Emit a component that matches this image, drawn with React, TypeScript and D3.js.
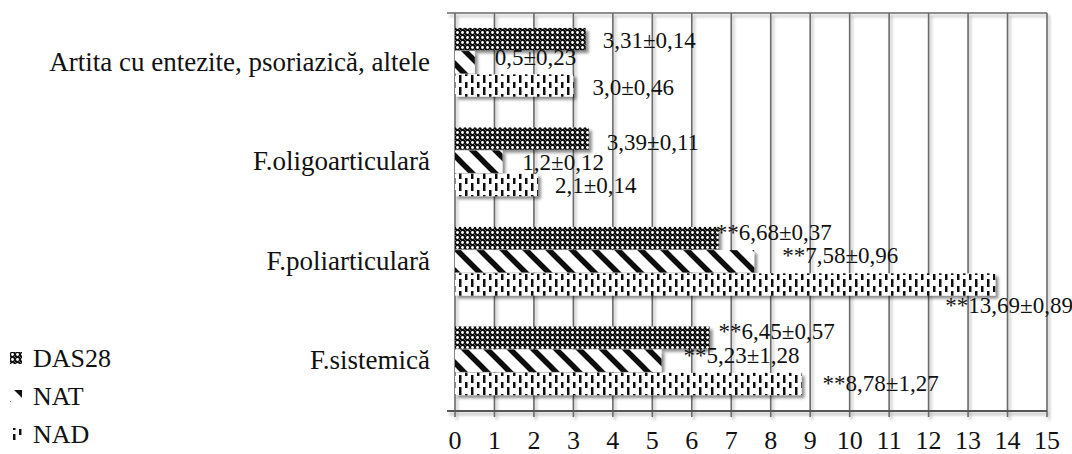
import * as d3 from 'd3';

const CATEGORIES = [
  'Artita cu entezite, psoriazică, altele',
  'F.oligoarticulară',
  'F.poliarticulară',
  'F.sistemică',
];
const SERIES = ['DAS28', 'NAT', 'NAD'];

// mean values per category (top to bottom)
const DAS28 = [3.31, 3.39, 6.68, 6.45];
const NAT = [0.5, 1.2, 7.58, 5.23];
const NAD = [3.0, 2.1, 13.69, 8.78];

// standard errors shown after the ±
const DAS28_SE = [0.14, 0.11, 0.37, 0.57];
const NAT_SE = [0.23, 0.12, 0.96, 1.28];
const NAD_SE = [0.46, 0.14, 0.89, 1.27];

// categories marked with ** (significant)
const SIGNIFICANT = [false, false, true, true];

const X_TICKS = [0, 1, 2, 3, 4, 5, 6, 7, 8, 9, 10, 11, 12, 13, 14, 15];

const WIDTH = 1072;
const HEIGHT = 454;
const PLOT = { left: 455, right: 1047, top: 13, bottom: 411 };
const FONT = '"Liberation Serif", monospace';
const GRID = '#6a6a6a';
const INK = '#111';

// hand placement of value labels, [category][series]: px right of bar end, px below bar centre
const LABEL_DX = [
  [17, 20, 19],
  [18, 20, 17],
  [-3, 28, -50],
  [9, 22, 21],
];
const LABEL_DY = [
  [8.5, 2.5, 9],
  [11, 8, 7.5],
  [1.5, 1.5, 28],
  [1, 2, 6.5],
];

const FILLS = ['url(#p-das28)', 'url(#p-nat)', 'url(#p-nad)'];
const P = 23; // NAT stripe period

const fmt = (v: number) => (Number.isInteger(v) ? v.toFixed(1) : String(v)).replace('.', ',');

export default function App() {
  const values = [DAS28, NAT, NAD];
  const errors = [DAS28_SE, NAT_SE, NAD_SE];

  const x = d3.scaleLinear().domain([0, 15]).range([PLOT.left, PLOT.right]);
  const y = d3
    .scaleBand()
    .domain(CATEGORIES)
    .range([PLOT.top, PLOT.bottom])
    .paddingInner(0.3)
    .paddingOuter(0.15);
  const ySub = d3.scaleBand().domain(SERIES).range([0, y.bandwidth()]);

  const rows = CATEGORIES.flatMap((cat, ci) =>
    SERIES.map((s, si) => ({ cat, ci, s, si, v: values[si][ci], se: errors[si][ci] }))
  );
  const barY = (d: { cat: string; s: string }) => (y(d.cat) as number) + (ySub(d.s) as number);

  return (
    <svg width={WIDTH} height={HEIGHT} style={{ position: 'absolute', left: 0, top: 0, background: '#fff' }}>
      <defs>
        <filter id="bar-shadow" x="-5%" y="-20%" width="115%" height="160%">
          <feDropShadow dx={3} dy={3} stdDeviation={1.6} floodColor="#000" floodOpacity={0.45} />
        </filter>
        <filter id="grid-shadow" x="-5%" y="-5%" width="110%" height="110%">
          <feDropShadow dx={2} dy={3} stdDeviation={1.8} floodColor="#000" floodOpacity={0.3} />
        </filter>

        {/* DAS28: dark grid with white dots */}
        <pattern id="p-das28" patternUnits="userSpaceOnUse" width={5} height={5}>
          <rect width={5} height={5} fill={INK} />
          <circle cx={2.5} cy={2.5} r={1.4} fill="#fff" />
          <circle cx={0} cy={0} r={0.7} fill="#fff" />
          <circle cx={5} cy={5} r={0.7} fill="#fff" />
        </pattern>

        {/* NAT: wide downward diagonal */}
        <pattern id="p-nat" patternUnits="userSpaceOnUse" width={P} height={P}>
          <rect width={P} height={P} fill="#fff" />
          <path
            d={`M-4,-4L${P + 4},${P + 4}M${P - 4},-4L${P + 4},4M-4,${P - 4}L4,${P + 4}`}
            stroke={INK}
            strokeWidth={5.5}
          />
        </pattern>

        {/* NAD: white with short vertical dashes */}
        <pattern id="p-nad" patternUnits="userSpaceOnUse" width={12} height={12}>
          <rect width={12} height={12} fill="#fff" />
          <rect x={3} y={3} width={2.5} height={8} fill={INK} />
          <rect x={9} y={0} width={2.5} height={4} fill={INK} />
          <rect x={9} y={10} width={2.5} height={2} fill={INK} />
        </pattern>
      </defs>

      {/* grid and frame */}
      <g filter="url(#grid-shadow)">
        {X_TICKS.map((t) => (
          <line
            key={t}
            x1={x(t)}
            x2={x(t)}
            y1={PLOT.top}
            y2={PLOT.bottom + 6}
            stroke={GRID}
            strokeWidth={1.6}
          />
        ))}
        <line x1={PLOT.left - 8} x2={PLOT.right} y1={PLOT.top} y2={PLOT.top} stroke={GRID} strokeWidth={1.6} />
        <line
          x1={PLOT.left - 8}
          x2={PLOT.right}
          y1={PLOT.bottom}
          y2={PLOT.bottom}
          stroke="#555"
          strokeWidth={1.8}
        />
      </g>

      {/* bars */}
      <g filter="url(#bar-shadow)">
        {rows.map((d) => (
          <rect
            key={`${d.ci}-${d.si}`}
            x={x(0)}
            y={barY(d)}
            width={x(d.v) - x(0)}
            height={ySub.bandwidth() - 1}
            fill={FILLS[d.si]}
          />
        ))}
      </g>

      {/* value labels */}
      {rows.map((d) => (
        <text
          key={`v-${d.ci}-${d.si}`}
          x={x(d.v) + LABEL_DX[d.ci][d.si]}
          y={barY(d) + ySub.bandwidth() / 2 + LABEL_DY[d.ci][d.si]}
          fontSize={23}
          fill={INK}
          style={{ fontFamily: FONT }}
        >
          {`${SIGNIFICANT[d.ci] ? '**' : ''}${fmt(d.v)}±${fmt(d.se)}`}
        </text>
      ))}

      {/* x tick labels */}
      {X_TICKS.map((t) => (
        <text
          key={`t-${t}`}
          x={x(t)}
          y={448.5}
          textAnchor="middle"
          fontSize={26}
          fill={INK}
          style={{ fontFamily: FONT }}
        >
          {t}
        </text>
      ))}

      {/* category labels */}
      {CATEGORIES.map((c) => (
        <text
          key={c}
          x={430}
          y={(y(c) as number) + y.bandwidth() / 2 + 8}
          textAnchor="end"
          fontSize={27}
          fill={INK}
          style={{ fontFamily: FONT }}
        >
          {c}
        </text>
      ))}

      {/* legend */}
      {SERIES.map((s, i) => (
        <g key={s} transform={`translate(10,${367 + i * 38})`}>
          <rect y={-15} width={12} height={12} fill={FILLS[i]} />
          <text x={23} fontSize={26} fill={INK} style={{ fontFamily: FONT }}>
            {s}
          </text>
        </g>
      ))}
    </svg>
  );
}
